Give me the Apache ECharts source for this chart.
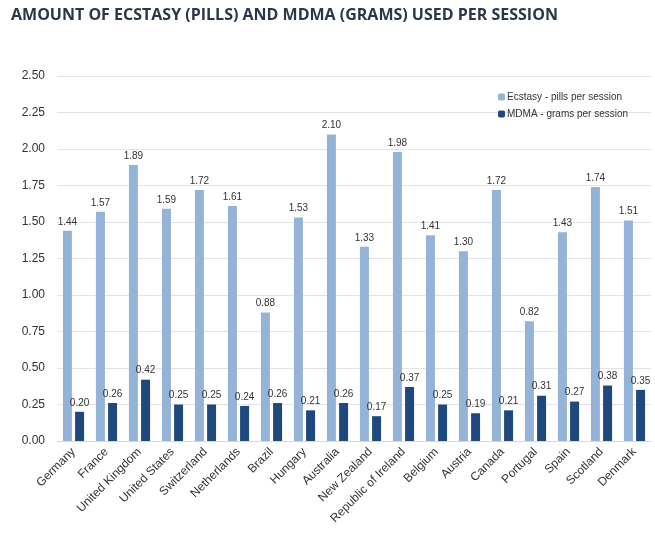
<!DOCTYPE html>
<html><head><meta charset="utf-8">
<script src="https://cdn.jsdelivr.net/npm/echarts@6/dist/echarts.min.js"></script>
<style>html,body{margin:0;padding:0;background:#fff}#c{width:655px;height:538px}</style>
</head><body><div id="c"></div>
<script>
const categories = ["Germany","France","United Kingdom","United States","Switzerland","Netherlands","Brazil","Hungary","Australia","New Zealand","Republic of Ireland","Belgium","Austria","Canada","Portugal","Spain","Scotland","Denmark"];
const ecstasy = [1.44,1.57,1.89,1.59,1.72,1.61,0.88,1.53,2.10,1.33,1.98,1.41,1.30,1.72,0.82,1.43,1.74,1.51];
const mdma = [0.20,0.26,0.42,0.25,0.25,0.24,0.26,0.21,0.26,0.17,0.37,0.25,0.19,0.21,0.31,0.27,0.38,0.35];
const yTicks = [0,0.25,0.5,0.75,1,1.25,1.5,1.75,2,2.25,2.5];
const chart = echarts.init(document.getElementById('c'));
const lbl = {show:true, position:'top', distance:4, fontSize:10, color:'#333', fontFamily:'Liberation Sans, Arial', formatter:p=>p.value.toFixed(2)};
chart.setOption({
  animation:false,
  title:{text:'AMOUNT OF ECSTASY (PILLS) AND MDMA (GRAMS) USED PER SESSION', left:6, top:2,
    textStyle:{fontFamily:'Open Sans', fontWeight:'bold', fontSize:16, color:'#2b3749'}},
  legend:{orient:'vertical', left:493, top:87, itemWidth:7, itemHeight:7, itemGap:7,
    textStyle:{fontSize:10, color:'#333', fontFamily:'Liberation Sans, Arial', padding:[0,0,0,-3]},
    data:['Ecstasy - pills per session','MDMA - grams per session']},
  grid:{left:57, right:4, top:76, bottom:97},
  xAxis:{type:'category', data:categories,
    axisLine:{lineStyle:{color:'#d9d9d9'}}, axisTick:{show:false},
    axisLabel:{rotate:45, fontSize:12, color:'#333', interval:0, margin:9, fontFamily:'Liberation Sans, Arial'}},
  yAxis:{type:'value', min:yTicks[0], max:yTicks[yTicks.length-1], interval:0.25,
    axisLabel:{formatter:v=>v.toFixed(2), fontSize:12, color:'#333', margin:12, fontFamily:'Liberation Sans, Arial'},
    splitLine:{lineStyle:{color:'#e4e4e4'}}, axisLine:{show:false}, axisTick:{show:false}},
  series:[
    {name:'Ecstasy - pills per session', type:'bar', data:ecstasy, barWidth:9, barGap:'35%',
      itemStyle:{color:'#95b3d7'}, label:lbl},
    {name:'MDMA - grams per session', type:'bar', data:mdma, barWidth:9,
      itemStyle:{color:'#1f497d'}, label:lbl}
  ]
});
</script></body></html>
